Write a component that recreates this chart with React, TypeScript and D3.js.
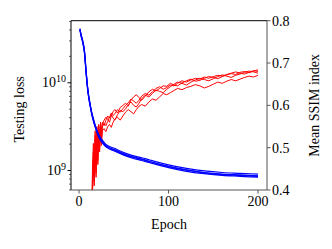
import React, { useRef, useEffect } from 'react';
import * as d3 from 'd3';

// blue: testing loss (x 1e9), a few runs
const lossEpochs = [1, 2, 4, 6, 8, 10, 12, 14, 16, 19, 22, 26, 30, 40, 50, 60, 70, 80, 100, 120, 140, 160, 180, 200];
const lossRunA = [41, 36, 30, 23, 13, 8.1, 6.0, 4.7, 3.9, 3.08, 2.58, 2.22, 1.98, 1.78, 1.6, 1.48, 1.40, 1.31, 1.16, 1.06, 0.99, 0.95, 0.93, 0.91];
const lossRunB = [40, 35, 29, 22, 12.4, 7.7, 5.7, 4.45, 3.65, 2.9, 2.4, 2.06, 1.86, 1.66, 1.5, 1.38, 1.30, 1.22, 1.08, 0.98, 0.92, 0.88, 0.86, 0.84];
const lossRunC = [40.5, 35.5, 29.5, 22.5, 12.8, 7.9, 5.85, 4.55, 3.75, 2.98, 2.48, 2.14, 1.92, 1.72, 1.55, 1.43, 1.35, 1.26, 1.12, 1.02, 0.95, 0.91, 0.89, 0.87];
const lossRunD = [41.5, 36.5, 30.5, 23.5, 13.1, 8.0, 5.9, 4.6, 3.8, 3.0, 2.5, 2.12, 1.90, 1.70, 1.53, 1.42, 1.34, 1.25, 1.11, 1.01, 0.94, 0.90, 0.88, 0.86];

// red: mean SSIM, a few runs
const ssimEpochs = [14, 15, 16, 17, 18, 19, 20, 21, 22, 23, 24, 25, 26, 28, 30, 32, 34, 36, 38, 40, 43, 46, 49, 52, 55, 58, 61, 64, 67, 70, 74, 78, 82, 86, 90, 94, 98, 102, 106, 110, 115, 120, 125, 130, 135, 140, 145, 150, 155, 160, 165, 170, 175, 180, 185, 190, 195, 200];
const ssimRunA = [0.30, 0.45, 0.51, 0.44, 0.54, 0.47, 0.55, 0.50, 0.555, 0.52, 0.56, 0.535, 0.555,
  0.565, 0.572, 0.568, 0.56, 0.575, 0.585, 0.59, 0.582, 0.595, 0.60, 0.605, 0.598, 0.612, 0.62, 0.625, 0.618, 0.612, 0.622, 0.632, 0.638, 0.634, 0.64, 0.646, 0.645, 0.652, 0.648, 0.646, 0.653, 0.658, 0.662, 0.657, 0.659, 0.664, 0.668, 0.666, 0.663, 0.668, 0.672, 0.675, 0.673, 0.678, 0.680, 0.677, 0.681, 0.684];
const ssimRunB = [0.34, 0.40, 0.47, 0.42, 0.52, 0.44, 0.53, 0.47, 0.54, 0.50, 0.545, 0.515, 0.55,
  0.558, 0.552, 0.562, 0.572, 0.578, 0.57, 0.565, 0.578, 0.588, 0.585, 0.592, 0.602, 0.608, 0.60, 0.596, 0.605, 0.616, 0.624, 0.62, 0.628, 0.636, 0.633, 0.63, 0.638, 0.644, 0.65, 0.655, 0.652, 0.648, 0.655, 0.66, 0.664, 0.661, 0.658, 0.663, 0.668, 0.672, 0.669, 0.666, 0.671, 0.674, 0.678, 0.681, 0.679, 0.676];
const ssimRunC = [0.32, 0.39, 0.46, 0.41, 0.50, 0.43, 0.52, 0.46, 0.53, 0.49, 0.535, 0.505, 0.54,
  0.545, 0.538, 0.55, 0.555, 0.548, 0.56, 0.568, 0.572, 0.565, 0.575, 0.584, 0.59, 0.585, 0.58, 0.59, 0.598, 0.602, 0.598, 0.608, 0.615, 0.612, 0.62, 0.628, 0.625, 0.63, 0.635, 0.64, 0.637, 0.642, 0.645, 0.649, 0.646, 0.641, 0.645, 0.65, 0.655, 0.652, 0.657, 0.661, 0.658, 0.662, 0.666, 0.669, 0.667, 0.671];
const ssimRunD = [0.31, 0.43, 0.49, 0.43, 0.53, 0.46, 0.54, 0.48, 0.55, 0.51, 0.555, 0.525, 0.56,
  0.552, 0.565, 0.575, 0.57, 0.582, 0.576, 0.58, 0.59, 0.584, 0.592, 0.60, 0.606, 0.615, 0.61, 0.605, 0.612, 0.622, 0.628, 0.624, 0.632, 0.64, 0.644, 0.638, 0.642, 0.648, 0.646, 0.652, 0.658, 0.655, 0.66, 0.664, 0.662, 0.667, 0.664, 0.668, 0.671, 0.669, 0.673, 0.676, 0.679, 0.676, 0.674, 0.678, 0.682, 0.68];

const xTicks = [0, 100, 200];
const ssimTicks = [0.4, 0.5, 0.6, 0.7, 0.8];
const lossMajor = [1e9, 1e10];

const App = () => {
  const svgRef = useRef<SVGSVGElement>(null);
  const width = 332, height = 249;
  const box = { left: 71, right: 267, top: 20.7, bottom: 190 };
  const font = '"Liberation Serif", "Times New Roman", serif';
  const fs = 14;

  useEffect(() => {
    const svg = d3.select(svgRef.current);
    svg.selectAll('*').remove();

    const x = d3.scaleLinear().domain([-9, 210]).range([box.left, box.right]);
    const yLoss = d3.scaleLog().domain([6.0e8, 5.1e10]).range([box.bottom, box.top]);
    const ySsim = d3.scaleLinear().domain([0.4, 0.8]).range([box.bottom, box.top]);

    svg.append('clipPath').attr('id', 'plotclip')
      .append('rect')
      .attr('x', box.left).attr('y', box.top)
      .attr('width', box.right - box.left).attr('height', box.bottom - box.top);

    const plot = svg.append('g').attr('clip-path', 'url(#plotclip)');

    // red ssim runs
    const ssimLine = d3.line<number>()
      .x((d, i) => x(ssimEpochs[i]))
      .y(d => ySsim(d));
    [ssimRunA, ssimRunB, ssimRunC, ssimRunD].forEach(run => {
      plot.append('path')
        .attr('d', ssimLine(run))
        .attr('fill', 'none')
        .attr('stroke', '#ff0000')
        .attr('stroke-width', 1)
        .attr('stroke-linejoin', 'round');
    });

    // blue loss runs
    const lossLine = d3.line<number>()
      .x((d, i) => x(lossEpochs[i]))
      .y(d => yLoss(d * 1e9))
      .curve(d3.curveMonotoneX);
    [lossRunA, lossRunB, lossRunC, lossRunD].forEach(run => {
      plot.append('path')
        .attr('d', lossLine(run))
        .attr('fill', 'none')
        .attr('stroke', '#0000ff')
        .attr('stroke-width', 1.2);
    });

    // spines
    svg.append('line').attr('x1', box.left).attr('x2', box.right).attr('y1', box.top).attr('y2', box.top)
      .attr('stroke', '#000').attr('stroke-width', 1);
    svg.append('line').attr('x1', box.left).attr('x2', box.left).attr('y1', box.top).attr('y2', box.bottom)
      .attr('stroke', '#000').attr('stroke-width', 1);
    svg.append('line').attr('x1', box.left).attr('x2', box.right).attr('y1', box.bottom).attr('y2', box.bottom)
      .attr('stroke', '#555').attr('stroke-width', 1);
    svg.append('line').attr('x1', box.right).attr('x2', box.right).attr('y1', box.top).attr('y2', box.bottom)
      .attr('stroke', '#555').attr('stroke-width', 1);

    // x ticks
    xTicks.forEach(t => {
      svg.append('line').attr('x1', x(t)).attr('x2', x(t)).attr('y1', box.bottom).attr('y2', box.bottom + 3.5)
        .attr('stroke', '#555');
      svg.append('text').attr('x', x(t)).attr('y', box.bottom + 16)
        .attr('text-anchor', 'middle').attr('font-family', font).attr('font-size', fs)
        .text(t);
    });

    // left log ticks
    const minor = yLoss.ticks().filter(t => !lossMajor.includes(t));
    minor.forEach(t => {
      svg.append('line').attr('x1', box.left).attr('x2', box.left - 2).attr('y1', yLoss(t)).attr('y2', yLoss(t))
        .attr('stroke', '#000').attr('stroke-width', 0.6);
    });
    lossMajor.forEach(t => {
      svg.append('line').attr('x1', box.left).attr('x2', box.left - 3.5).attr('y1', yLoss(t)).attr('y2', yLoss(t))
        .attr('stroke', '#000');
      const lbl = svg.append('text').attr('x', box.left - 5).attr('y', yLoss(t) + 4.5)
        .attr('text-anchor', 'end').attr('font-family', font).attr('font-size', fs);
      lbl.append('tspan').text('10');
      lbl.append('tspan').attr('dy', -5).attr('font-size', 10).text(String(Math.round(Math.log10(t))));
    });

    // right ssim ticks
    ssimTicks.forEach(t => {
      svg.append('line').attr('x1', box.right).attr('x2', box.right + 3.5).attr('y1', ySsim(t)).attr('y2', ySsim(t))
        .attr('stroke', '#555');
      svg.append('text').attr('x', box.right + 5).attr('y', ySsim(t) + 5)
        .attr('font-family', font).attr('font-size', fs)
        .text(t.toFixed(1));
    });

    // axis titles
    svg.append('text').attr('x', (box.left + box.right) / 2).attr('y', 229)
      .attr('text-anchor', 'middle').attr('font-family', font).attr('font-size', fs)
      .text('Epoch');
    svg.append('text').attr('transform', `translate(24,${(box.top + box.bottom) / 2 + 4}) rotate(-90)`)
      .attr('text-anchor', 'middle').attr('font-family', font).attr('font-size', fs)
      .text('Testing loss');
    svg.append('text').attr('transform', `translate(319,${(box.top + box.bottom) / 2}) rotate(-90)`)
      .attr('text-anchor', 'middle').attr('font-family', font).attr('font-size', fs)
      .text('Mean SSIM index');
  }, []);

  return (
    <div>
      <svg ref={svgRef} width={width} height={height}
        style={{ position: 'absolute', left: 0, top: 0, background: '#fff' }}></svg>
    </div>
  );
};

export default App;
